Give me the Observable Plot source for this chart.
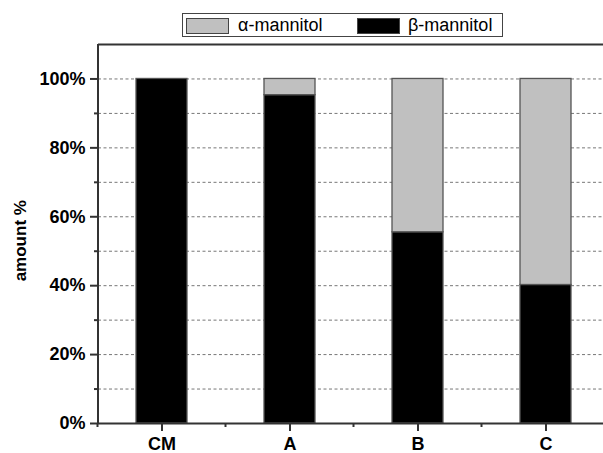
<!DOCTYPE html>
<html>
<head>
<meta charset="utf-8">
<script src="https://cdn.jsdelivr.net/npm/d3@7"></script>
<script src="https://cdn.jsdelivr.net/npm/@observablehq/plot@0.6"></script>
<style>
  html, body { margin: 0; padding: 0; background: #fff; }
  #wrap { position: relative; width: 603px; height: 453px; font-family: "Liberation Sans", Arial, sans-serif; }
  #legend { position: absolute; left: 182px; top: 13px; width: 319px; height: 22px; border: 1px solid #444; background: #fff; box-sizing: content-box; }
  .sw { position: absolute; top: 4px; width: 41px; height: 14px; border: 1px solid #444; }
  .lt { position: absolute; top: 1px; font-size: 18px; line-height: 20px; color: #000; }
</style>
</head>
<body>
<div id="wrap"><div id="legend"></div></div>
<script>
const categories = ["CM", "A", "B", "C"];
const betaValues = [100, 95.3, 55.5, 40.2];
const alphaValues = [0, 4.7, 44.5, 59.8];
const seriesNames = ["α-mannitol", "β-mannitol"];
const seriesColors = ["#c0c0c0", "#000000"];
const majorTicks = [0, 20, 40, 60, 80, 100];
const minorTicks = [10, 30, 50, 70, 90];
const gridTicks = [10, 20, 30, 40, 50, 60, 70, 80, 90, 100];
const yLabel = "amount %";

const data = categories.flatMap((c, i) => [
  {cat: c, series: seriesNames[1], value: betaValues[i]},
  {cat: c, series: seriesNames[0], value: alphaValues[i]}
]);

function frameAndMinor() {
  const args = Array.from(arguments);
  const dims = args.find(a => a && typeof a === "object" && "marginLeft" in a && "width" in a);
  const sc = args.find(a => a && typeof a === "object" && typeof a.x === "function" && typeof a.y === "function");
  const g = d3.create("svg:g");
  const x = sc.x, y = sc.y;
  const bw = x.bandwidth ? x.bandwidth() : 0;
  const centers = categories.map(c => x(c) + bw / 2);
  const step = centers[1] - centers[0];
  const y0 = y(0);
  centers.forEach(cx => {
    g.append("line").attr("x1", cx - step / 2).attr("x2", cx - step / 2)
      .attr("y1", y0).attr("y2", y0 + 4).attr("stroke", "#333").attr("stroke-width", 2);
  });
  g.append("line").attr("x1", dims.marginLeft).attr("x2", dims.marginLeft)
    .attr("y1", y(0) + 1).attr("y2", y(110)).attr("stroke", "#333").attr("stroke-width", 2);
  const ly = (y(0) + y(100)) / 2 - 10;
  const lx = dims.marginLeft - 76;
  g.append("text")
    .attr("transform", `translate(${lx},${ly}) rotate(-90)`)
    .attr("text-anchor", "middle")
    .attr("dominant-baseline", "middle")
    .attr("font-size", 17)
    .attr("font-weight", "bold")
    .attr("fill", "#000")
    .text(yLabel);
  return g.node();
}

const chart = Plot.plot({
  width: 603,
  height: 453,
  marginTop: 44,
  marginBottom: 30,
  marginLeft: 98,
  marginRight: 0,
  style: {fontFamily: '"Liberation Sans", Arial, sans-serif', background: "transparent", color: "#000"},
  x: {domain: categories, range: [98, 610], paddingInner: 0.6, paddingOuter: 0.3},
  y: {domain: [0, 110]},
  color: {domain: seriesNames, range: seriesColors},
  marks: [
    Plot.ruleY(gridTicks, {stroke: "#777", strokeWidth: 1, strokeDasharray: "3,2.5"}),
    Plot.barY(data, {x: "cat", y: "value", fill: "series", stroke: "#555", strokeWidth: 1.3}),
    Plot.ruleY([0, 110], {stroke: "#333", strokeWidth: 2}),
    Plot.axisY(majorTicks, {tickSize: 8, tickPadding: 5, tickFormat: d => d + "%", fontSize: 18, fontWeight: "bold", label: null, stroke: "#333", strokeWidth: 2}),
    Plot.axisY(minorTicks, {tickSize: 4, tickFormat: () => "", label: null, stroke: "#333", strokeWidth: 2}),
    Plot.axisX({tickSize: 8, tickPadding: 6, fontSize: 18, fontWeight: "bold", label: null, stroke: "#333", strokeWidth: 2}),
    frameAndMinor
  ]
});

const wrap = document.getElementById("wrap");
wrap.insertBefore(chart, wrap.firstChild);

const legend = document.getElementById("legend");
const swLeft = [3, 174];
const txtLeft = [55, 225];
seriesNames.forEach((name, i) => {
  const sw = document.createElement("div");
  sw.className = "sw";
  sw.style.left = swLeft[i] + "px";
  sw.style.background = seriesColors[i];
  legend.appendChild(sw);
  const t = document.createElement("div");
  t.className = "lt";
  t.style.left = txtLeft[i] + "px";
  t.textContent = name;
  legend.appendChild(t);
});
</script>
</body>
</html>
